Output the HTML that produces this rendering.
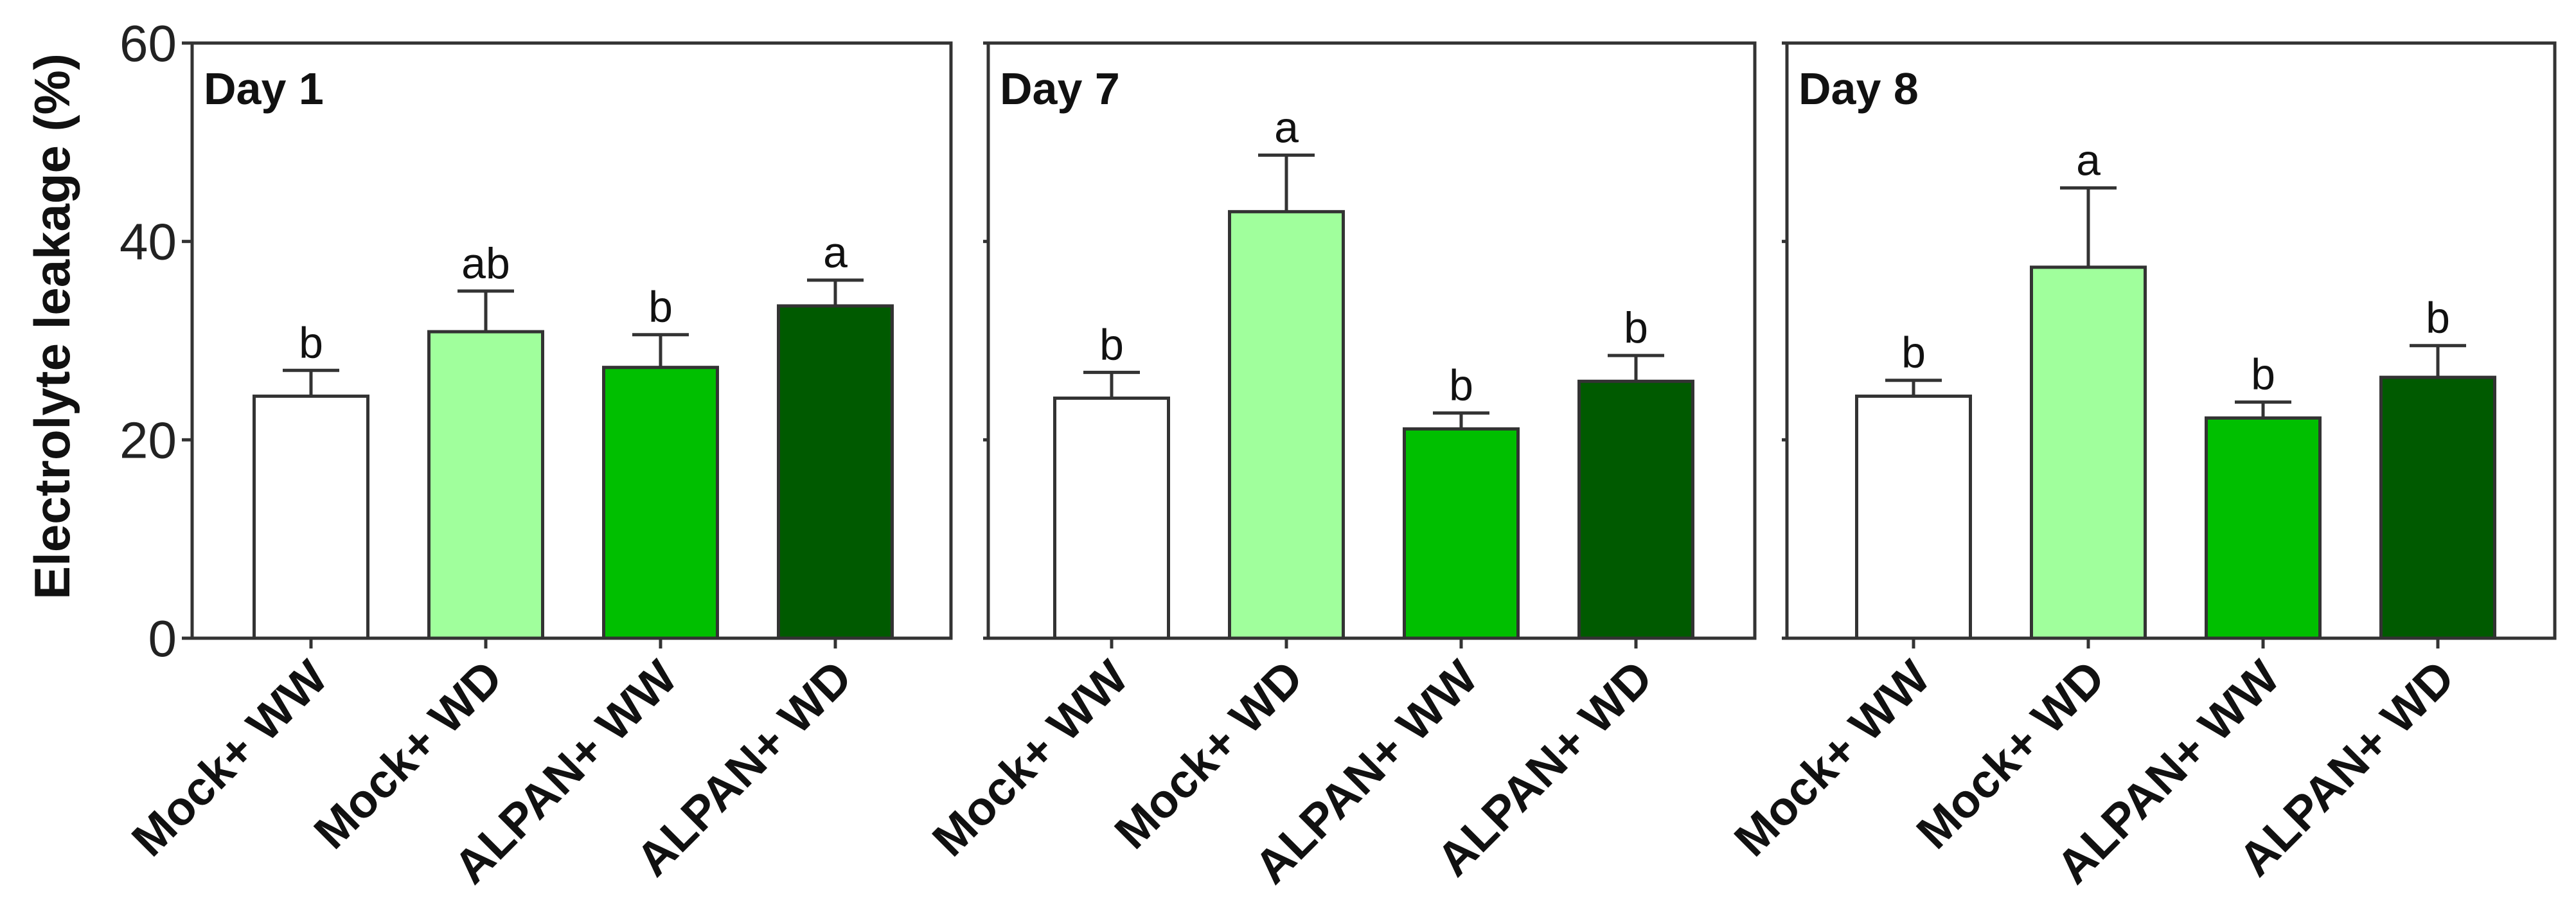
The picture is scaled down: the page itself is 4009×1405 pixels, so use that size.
<!DOCTYPE html>
<html><head><meta charset="utf-8"><style>
html,body{margin:0;padding:0;background:#fff;}
svg{display:block;font-family:"Liberation Sans",sans-serif;}
</style></head><body>
<svg id="chart" width="4009" height="1405" viewBox="0 0 4009 1405" xmlns="http://www.w3.org/2000/svg">
<text x="0" y="0" transform="translate(108,508) rotate(-90)" text-anchor="middle" font-size="78" font-weight="bold" fill="#111">Electrolyte leakage (%)</text>
</svg>
<script>
const categories = ["Mock+ WW","Mock+ WD","ALPAN+ WW","ALPAN+ WD"];
const panelTitles = ["Day 1","Day 7","Day 8"];
const day1Values = [24.4,30.9,27.3,33.5];
const day1Errors = [2.6,4.1,3.3,2.6];
const day1Letters = ["b","ab","b","a"];
const day7Values = [24.2,43.0,21.1,25.9];
const day7Errors = [2.6,5.7,1.6,2.6];
const day7Letters = ["b","a","b","b"];
const day8Values = [24.4,37.4,22.2,26.3];
const day8Errors = [1.6,8.0,1.6,3.2];
const day8Letters = ["b","a","b","b"];
const yTicks = [0,20,40,60];
const barColors = ["#ffffff","#a0ff9c","#00bf00","#005a00"];

const svgEl = document.getElementById('chart');
const NS = "http://www.w3.org/2000/svg";
const panels = [
  {left:299,right:1480,off:185,vals:day1Values,errs:day1Errors,letters:day1Letters},
  {left:1538,right:2731,off:192,vals:day7Values,errs:day7Errors,letters:day7Letters},
  {left:2781,right:3976,off:197,vals:day8Values,errs:day8Errors,letters:day8Letters}
];
const plotTop=67, plotBottom=993, yMax=60, step=272, barW=177;
function yScale(v){return plotBottom-(v/yMax)*(plotBottom-plotTop);}
function mk(tag,attrs){const e=document.createElementNS(NS,tag);for(const k in attrs)e.setAttribute(k,attrs[k]);svgEl.appendChild(e);return e;}

panels.forEach((p,pi)=>{
  const frame=mk('rect',{x:p.left,y:plotTop,width:p.right-p.left,height:plotBottom-plotTop,fill:'none',stroke:'#333','stroke-width':5});
  
  
  const t=mk('text',{x:p.left+18,y:plotTop+95,'font-size':70,'font-weight':'bold',fill:'#111'});
  t.textContent=panelTitles[pi];
  
  
  yTicks.forEach(v=>{
    const tk=mk('line',{x1:p.left-(pi===0?16:8),x2:p.left,y1:yScale(v),y2:yScale(v),stroke:'#333','stroke-width':5});
    
    
    if(pi===0){
      const l=mk('text',{x:p.left-24,y:yScale(v)+28,'text-anchor':'end','font-size':80,fill:'#222'});
      l.textContent=v;
      
      
    }
  });
  categories.forEach((c,i)=>{
    const cx=p.left+p.off+i*step;
    const v=p.vals[i], e=p.errs[i];
    const el=mk('line',{x1:cx,x2:cx,y1:yScale(v),y2:yScale(v+e),stroke:'#333','stroke-width':5});
    
    
    const cap=mk('line',{x1:cx-44,x2:cx+44,y1:yScale(v+e),y2:yScale(v+e),stroke:'#333','stroke-width':5});
    
    
    const b=mk('rect',{x:cx-barW/2,y:yScale(v),width:barW,height:plotBottom-yScale(v),fill:barColors[i],stroke:'#333','stroke-width':5});
    
    
    const lt=mk('text',{x:cx,y:yScale(v+e)-20,'text-anchor':'middle','font-size':68,fill:'#111'});
    lt.textContent=p.letters[i];
    
    
    const xt=mk('line',{x1:cx,x2:cx,y1:plotBottom,y2:plotBottom+16,stroke:'#333','stroke-width':5});
    
    
    const xl=mk('text',{x:0,y:0,'text-anchor':'end','font-size':74,'font-weight':'bold',fill:'#111',transform:`translate(${cx+30},${plotBottom+66}) rotate(-45)`});
    xl.textContent=c;
    
    
  });
});
</script>
</body></html>
